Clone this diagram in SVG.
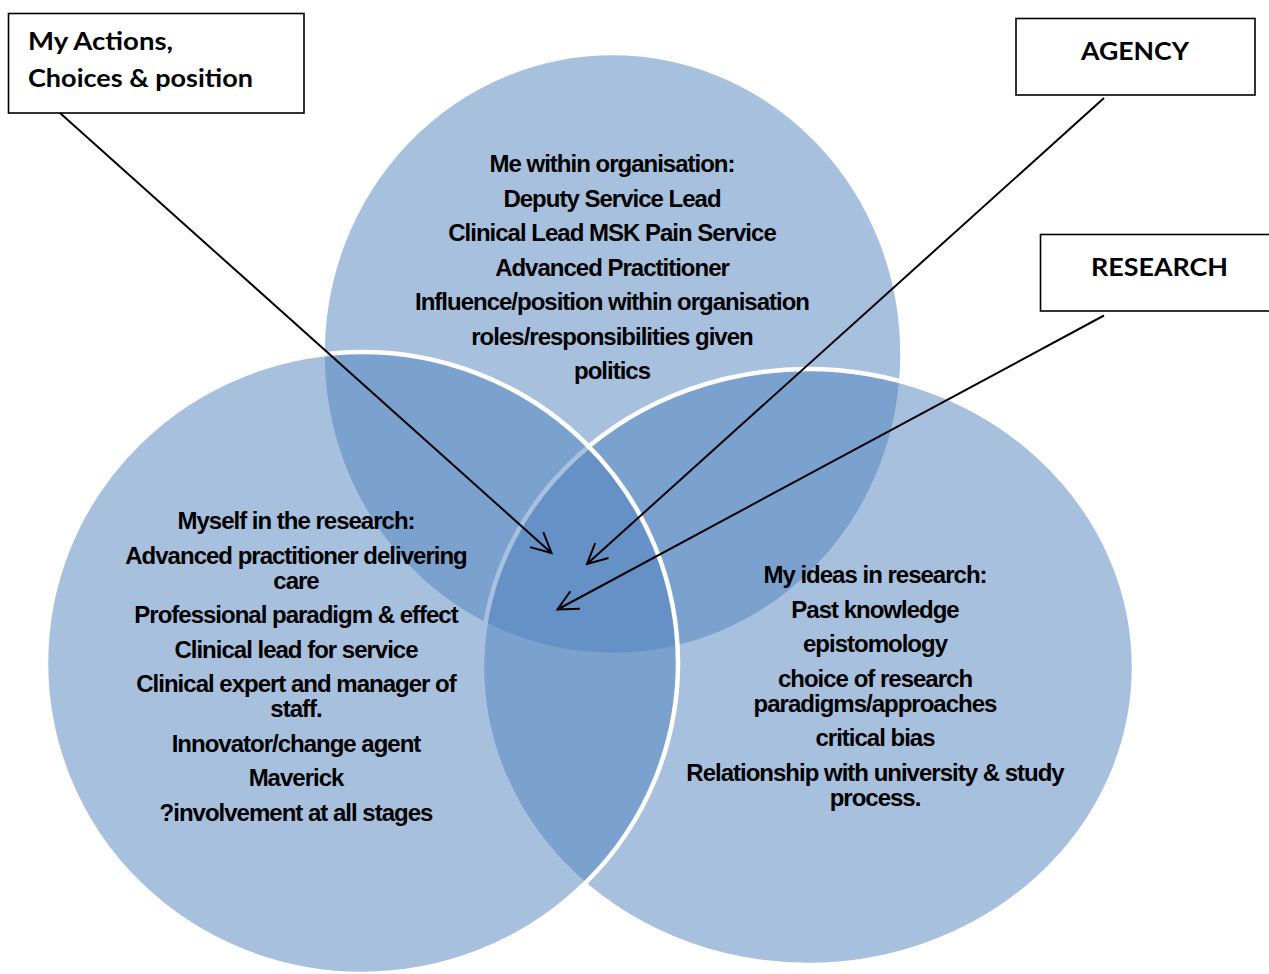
<svg xmlns="http://www.w3.org/2000/svg" width="1269" height="974" viewBox="0 0 1269 974">
<style>
.set{fill:#4F81BD;fill-opacity:0.5;stroke:#FFFFFF;stroke-width:4.5}
.t{font-family:"Liberation Sans",Arial,sans-serif;font-weight:bold;font-size:24px;letter-spacing:-1px;text-anchor:middle;fill:#000}
.box{fill:#FFFFFF;stroke:#000;stroke-width:1.6}
.bl{font-family:Lato,"Open Sans",sans-serif;font-weight:bold;font-size:24px;fill:#000}
.conn{stroke:#000;stroke-width:2;fill:none}
</style>
<defs>
<marker id="arr" viewBox="0 0 20 20" refX="20" refY="10" markerWidth="20" markerHeight="20" markerUnits="userSpaceOnUse" orient="auto" overflow="visible">
<path d="M0,0 L20,10 L0,20" fill="none" stroke="#000" stroke-width="2"/>
</marker>
</defs>
<rect width="1269" height="974" fill="#FFFFFF"/>
<g id="organisation">
<ellipse class="set" cx="612.5" cy="354" rx="290" ry="301"/>
<text class="t" x="612" y="172">Me within organisation:</text>
<text class="t" x="612" y="206.5">Deputy Service Lead</text>
<text class="t" x="612" y="241">Clinical Lead MSK Pain Service</text>
<text class="t" x="612" y="275.5">Advanced Practitioner</text>
<text class="t" x="612" y="310">Influence/position within organisation</text>
<text class="t" x="612" y="344.5">roles/responsibilities given</text>
<text class="t" x="612" y="379">politics</text>
</g>
<g id="ideas">
<ellipse class="set" cx="808" cy="667" rx="326" ry="298"/>
<text class="t" x="875" y="583">My ideas in research:</text>
<text class="t" x="875" y="617.5">Past knowledge</text>
<text class="t" x="875" y="652">epistomology</text>
<text class="t" x="875" y="686.5">choice of research</text>
<text class="t" x="875" y="711.5">paradigms/approaches</text>
<text class="t" x="875" y="746">critical bias</text>
<text class="t" x="875" y="780.5">Relationship with university &amp; study</text>
<text class="t" x="875" y="805.5">process.</text>
</g>
<g id="myself">
<ellipse class="set" cx="362" cy="663" rx="316" ry="311"/>
<text class="t" x="296" y="529">Myself in the research:</text>
<text class="t" x="296" y="563.5">Advanced practitioner delivering</text>
<text class="t" x="296" y="588.5">care</text>
<text class="t" x="296" y="623">Professional paradigm &amp; effect</text>
<text class="t" x="296" y="657.5">Clinical lead for service</text>
<text class="t" x="296" y="692">Clinical expert and manager of</text>
<text class="t" x="296" y="717">staff.</text>
<text class="t" x="296" y="751.5">Innovator/change agent</text>
<text class="t" x="296" y="786">Maverick</text>
<text class="t" x="296" y="820.5">?involvement at all stages</text>
</g>
<g id="label-actions">
<rect class="box" x="8.5" y="13.5" width="295.5" height="99.5"/>
<text class="bl" x="28" y="50" textLength="145" lengthAdjust="spacingAndGlyphs">My Actions,</text>
<text class="bl" x="28" y="87" textLength="225" lengthAdjust="spacingAndGlyphs">Choices &amp; position</text>
</g>
<g id="label-agency">
<rect class="box" x="1016" y="18.5" width="239" height="76.5"/>
<text class="bl" x="1081" y="60" textLength="108" lengthAdjust="spacingAndGlyphs">AGENCY</text>
</g>
<g id="label-research">
<rect class="box" x="1040.5" y="234.5" width="240" height="76.5"/>
<text class="bl" x="1091" y="276" textLength="137" lengthAdjust="spacingAndGlyphs">RESEARCH</text>
</g>
<g id="connectors">
<line class="conn" x1="60" y1="113" x2="551.5" y2="553" marker-end="url(#arr)"/>
<line class="conn" x1="1104" y1="98" x2="587" y2="564" marker-end="url(#arr)"/>
<line class="conn" x1="1104" y1="315.5" x2="557.5" y2="609.5" marker-end="url(#arr)"/>
</g>
</svg>
